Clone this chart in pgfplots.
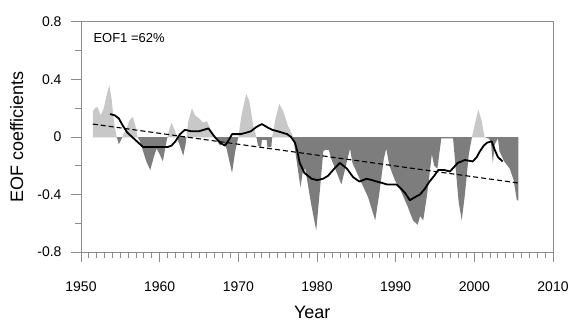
\documentclass[border=0pt]{standalone}
\usepackage{pgfplots}
\usepackage{pgfplotstable}
\pgfplotsset{compat=1.18}
\usetikzlibrary{calc}
\usepackage{fontspec}
\setmainfont{Liberation Sans}
\definecolor{lightg}{RGB}{200,200,200}
\definecolor{darkg}{RGB}{125,125,125}
\definecolor{framec}{RGB}{140,140,140}
\pgfplotstableread{
x y
1951.5 0
1951.5 0.18
1951.8 0.20
1952.1 0.21
1952.5 0.15
1952.9 0.20
1953.3 0.30
1953.6 0.36
1953.9 0.26
1954.2 0.10
1954.5 0.01
1954.55 0
1954.8 -0.05
1955.1 -0.02
1955.25 0
1955.4 0.02
1955.8 0.06
1956.2 0.12
1956.6 0.14
1956.9 0.08
1957.2 0.00
1957.5 -0.03
1957.9 -0.10
1958.3 -0.17
1958.8 -0.23
1959.2 -0.15
1959.6 -0.08
1960.0 -0.12
1960.4 -0.17
1960.8 -0.05
1960.99 0
1961.1 0.03
1961.5 0.10
1961.9 0.05
1962.19 0
1962.3 -0.02
1963.0 -0.13
1963.3 -0.05
1963.4 0
1963.6 0.10
1964.1 0.20
1964.5 0.15
1965.0 0.13
1965.5 0.10
1966.0 0.11
1966.4 0.06
1966.8 0.02
1967.0 0
1967.2 -0.02
1967.7 -0.06
1968.1 -0.03
1968.5 -0.08
1969.2 -0.25
1969.6 -0.10
1970.0 0.00
1970.4 0.15
1971.0 0.30
1971.4 0.25
1971.9 0.08
1972.3 0.00
1972.5 -0.06
1972.9 -0.07
1973.0 -0.02
1973.6 -0.02
1973.7 -0.07
1974.2 -0.07
1974.3 0.00
1974.7 0.12
1975.2 0.23
1975.7 0.18
1976.3 0.08
1976.9 0.01
1976.93 0
1977.1 -0.05
1977.5 -0.20
1977.9 -0.35
1978.2 -0.24
1978.5 -0.22
1979.2 -0.45
1979.9 -0.65
1980.4 -0.35
1980.8 -0.10
1981.0 -0.09
1981.5 -0.09
1981.8 -0.15
1983.1 -0.33
1984.2 -0.08
1984.5 -0.18
1985.5 -0.30
1986.5 -0.42
1987.4 -0.58
1987.9 -0.40
1988.5 -0.15
1988.8 -0.08
1989.2 -0.20
1989.9 -0.30
1990.7 -0.38
1991.5 -0.48
1992.2 -0.58
1992.8 -0.61
1993.1 -0.55
1993.5 -0.58
1994.0 -0.40
1994.6 -0.12
1994.9 -0.20
1995.3 -0.22
1995.8 -0.01
1997.3 -0.01
1997.6 -0.20
1998.0 -0.45
1998.4 -0.58
1998.8 -0.40
1999.3 -0.12
1999.7 0.00
2000.2 0.12
2000.5 0.19
2000.9 0.12
2001.3 0.00
2001.8 -0.01
2002.1 -0.03
2002.35 -0.18
2002.6 -0.05
2003.0 -0.01
2003.2 -0.10
2003.8 -0.17
2004.5 -0.22
2005.0 -0.30
2005.4 -0.44
2005.6 -0.44
2005.6 0
}\eofdata
\begin{document}
\begin{tikzpicture}
\begin{axis}[
  name=ax,
  scale only axis,
  width=472pt, height=230pt,
  xmin=1950, xmax=2010,
  ymin=-0.8, ymax=0.8,
  xtick={1950,1960,...,2010},
  minor x tick num=9,
  ytick={-0.8,-0.4,0,0.4,0.8},
  yticklabels={-0.8,-0.4,0,0.4,0.8},
  minor y tick num=1,
  xtick pos=bottom, ytick pos=left,
  tick align=outside,
  major tick length=10pt, minor tick length=6pt,
  axis line style={framec, line width=1pt},
  tick style={framec, line width=1pt},
  /pgf/number format/assume math mode=true,
  x tick label style={/pgf/number format/1000 sep={}, font=\fontsize{14}{16}\selectfont, yshift=-16pt},
  y tick label style={font=\fontsize{14}{16}\selectfont, xshift=-6pt},
  xlabel={Year}, ylabel={EOF coefficients},
  xlabel style={at={(axis description cs:0.49,-0.261)}, anchor=center, font=\fontsize{18}{20}\selectfont},
  ylabel style={at={(axis description cs:-0.136,0.5)}, anchor=center, font=\fontsize{18}{20}\selectfont},
  clip=true,
]
\addplot[fill=lightg, draw=none, y filter/.expression={y>0 ? y : 0}] table[x=x, y=y] {\eofdata} \closedcycle;
\addplot[fill=darkg, draw=none, y filter/.expression={y<0 ? y : 0}] table[x=x, y=y] {\eofdata} \closedcycle;
\addplot[black, line width=1.1pt, dash pattern=on 5pt off 3pt] coordinates {(1951.5,0.09) (2005.6,-0.32)};
\addplot[black, line width=1.8pt, line join=round] coordinates {
(1953.7,0.16) (1954.3,0.15) (1954.8,0.13) (1955.3,0.08) (1955.9,0.03) (1956.5,0.00) (1957.1,-0.03) (1957.9,-0.07)
(1959,-0.07) (1960,-0.07) (1961.0,-0.07) (1961.5,-0.06) (1962.0,-0.03) (1962.6,0.02) (1963.2,0.05) (1964,0.04)
(1965,0.04) (1966.2,0.06) (1967.0,0.00) (1967.7,-0.04) (1968.3,-0.06) (1968.8,-0.02) (1969.2,0.02) (1970.3,0.02)
(1971.0,0.03) (1971.6,0.04) (1972.3,0.07) (1973.0,0.09) (1973.6,0.07) (1974.3,0.05) (1975.0,0.04) (1975.6,0.03)
(1976.2,0.02) (1976.7,0.00) (1977.2,-0.04) (1977.5,-0.10) (1977.8,-0.18) (1978.4,-0.25) (1979.3,-0.29) (1980.0,-0.30)
(1980.8,-0.29) (1981.4,-0.27) (1982.2,-0.22) (1982.9,-0.18) (1983.8,-0.22) (1984.6,-0.28) (1985.4,-0.31) (1986.3,-0.29)
(1987.0,-0.30) (1987.6,-0.31) (1988.3,-0.32) (1988.9,-0.33) (1990.1,-0.33) (1990.7,-0.36) (1991.2,-0.39) (1991.8,-0.44)
(1992.4,-0.42) (1993.1,-0.40) (1993.7,-0.36) (1994.3,-0.31) (1994.9,-0.27) (1995.4,-0.23) (1996.2,-0.23) (1996.9,-0.24)
(1997.4,-0.21) (1997.9,-0.18) (1998.8,-0.16) (1999.8,-0.17) (2000.3,-0.14) (2000.7,-0.10) (2001.2,-0.06) (2001.6,-0.04)
(2002.2,-0.03) (2002.6,-0.09) (2003.0,-0.14) (2003.6,-0.17)
};
\node[anchor=west, font=\fontsize{13}{15}\selectfont] at (rel axis cs:0.019,0.93) {EOF1 =62\%};
\end{axis}
\pgfresetboundingbox
\path ($(ax.south west)+(-81pt,-70pt)$) rectangle ($(ax.north east)+(19pt,22pt)$);
\end{tikzpicture}
\end{document}
